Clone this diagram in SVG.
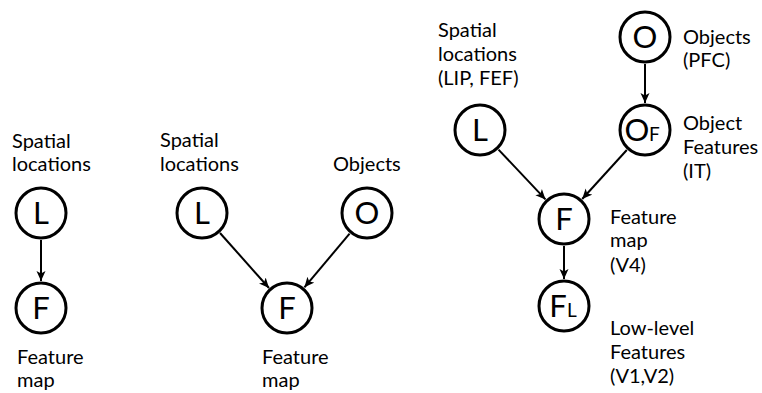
<svg xmlns="http://www.w3.org/2000/svg" width="762" height="393" viewBox="0 0 762 393">
<style>
  .node circle { fill: #fff; stroke: #000; stroke-width: 3; }
  .sym { font-family: Lato, "Liberation Sans", sans-serif; font-size: 31px; fill: #000; text-anchor: middle; }
  .sub { font-family: Lato, "Liberation Sans", sans-serif; font-size: 19px; fill: #000; }
  .lbl { font-family: Lato, "Liberation Sans", sans-serif; font-size: 20px; fill: #000; }
  .edge { stroke: #000; stroke-width: 2; fill: none; marker-end: url(#arr); }
</style>
<defs>
  <marker id="arr" markerUnits="userSpaceOnUse" markerWidth="11" markerHeight="10" refX="10" refY="5" orient="auto">
    <path d="M0,0.5 L10,5 L0,9.5 L2.5,5 z" fill="#000"/>
  </marker>
</defs>
<rect width="762" height="393" fill="#fff"/>

<g id="connectors">
  <line class="edge" x1="41" y1="240" x2="41" y2="281"/>
  <line class="edge" x1="220" y1="233" x2="269" y2="288"/>
  <line class="edge" x1="349.6" y1="233.7" x2="304.4" y2="287.3"/>
  <line class="edge" x1="498.5" y1="149.6" x2="545.5" y2="199.4"/>
  <line class="edge" x1="626.8" y1="150" x2="582.2" y2="199"/>
  <line class="edge" x1="645" y1="64" x2="645" y2="103"/>
  <line class="edge" x1="564" y1="246" x2="564" y2="279"/>
</g>

<g id="d1-labels">
  <text class="lbl" x="12" y="148">Spatial</text>
  <text class="lbl" x="12" y="171">locations</text>
  <text class="lbl" x="17" y="364">Feature</text>
  <text class="lbl" x="17" y="387">map</text>
</g>
<g id="d1-L" class="node"><circle cx="41" cy="213" r="25"/><text class="sym" x="41" y="224">L</text></g>
<g id="d1-F" class="node"><circle cx="41" cy="308" r="25"/><text class="sym" x="41" y="319">F</text></g>

<g id="d2-labels">
  <text class="lbl" x="160" y="147">Spatial</text>
  <text class="lbl" x="160" y="171">locations</text>
  <text class="lbl" x="333" y="171">Objects</text>
  <text class="lbl" x="262" y="364">Feature</text>
  <text class="lbl" x="262" y="387">map</text>
</g>
<g id="d2-L" class="node"><circle cx="202" cy="213" r="25"/><text class="sym" x="202" y="224">L</text></g>
<g id="d2-O" class="node"><circle cx="367" cy="213" r="25"/><text class="sym" x="367" y="224">O</text></g>
<g id="d2-F" class="node"><circle cx="287" cy="308" r="25"/><text class="sym" x="287" y="319">F</text></g>

<g id="d3-labels">
  <text class="lbl" x="438" y="37">Spatial</text>
  <text class="lbl" x="438" y="61">locations</text>
  <text class="lbl" x="438" y="85">(LIP, FEF)</text>
  <text class="lbl" x="683" y="44">Objects</text>
  <text class="lbl" x="683" y="67">(PFC)</text>
  <text class="lbl" x="683" y="130">Object</text>
  <text class="lbl" x="683" y="154">Features</text>
  <text class="lbl" x="683" y="178">(IT)</text>
  <text class="lbl" x="610" y="224">Feature</text>
  <text class="lbl" x="610" y="247">map</text>
  <text class="lbl" x="610" y="272">(V4)</text>
  <text class="lbl" x="610" y="335">Low-level</text>
  <text class="lbl" x="610" y="359">Features</text>
  <text class="lbl" x="610" y="383">(V1,V2)</text>
</g>
<g id="d3-L" class="node"><circle cx="480" cy="130" r="25"/><text class="sym" x="480" y="141">L</text></g>
<g id="d3-O" class="node"><circle cx="645" cy="37" r="25"/><text class="sym" x="645" y="48">O</text></g>
<g id="d3-OF" class="node"><circle cx="645" cy="130" r="25"/><text class="sym" x="637" y="141">O</text><text class="sub" x="649" y="141">F</text></g>
<g id="d3-F" class="node"><circle cx="564" cy="219" r="25"/><text class="sym" x="564" y="230">F</text></g>
<g id="d3-FL" class="node"><circle cx="564" cy="306" r="25"/><text class="sym" x="558" y="317">F</text><text class="sub" x="567" y="317">L</text></g>
</svg>
